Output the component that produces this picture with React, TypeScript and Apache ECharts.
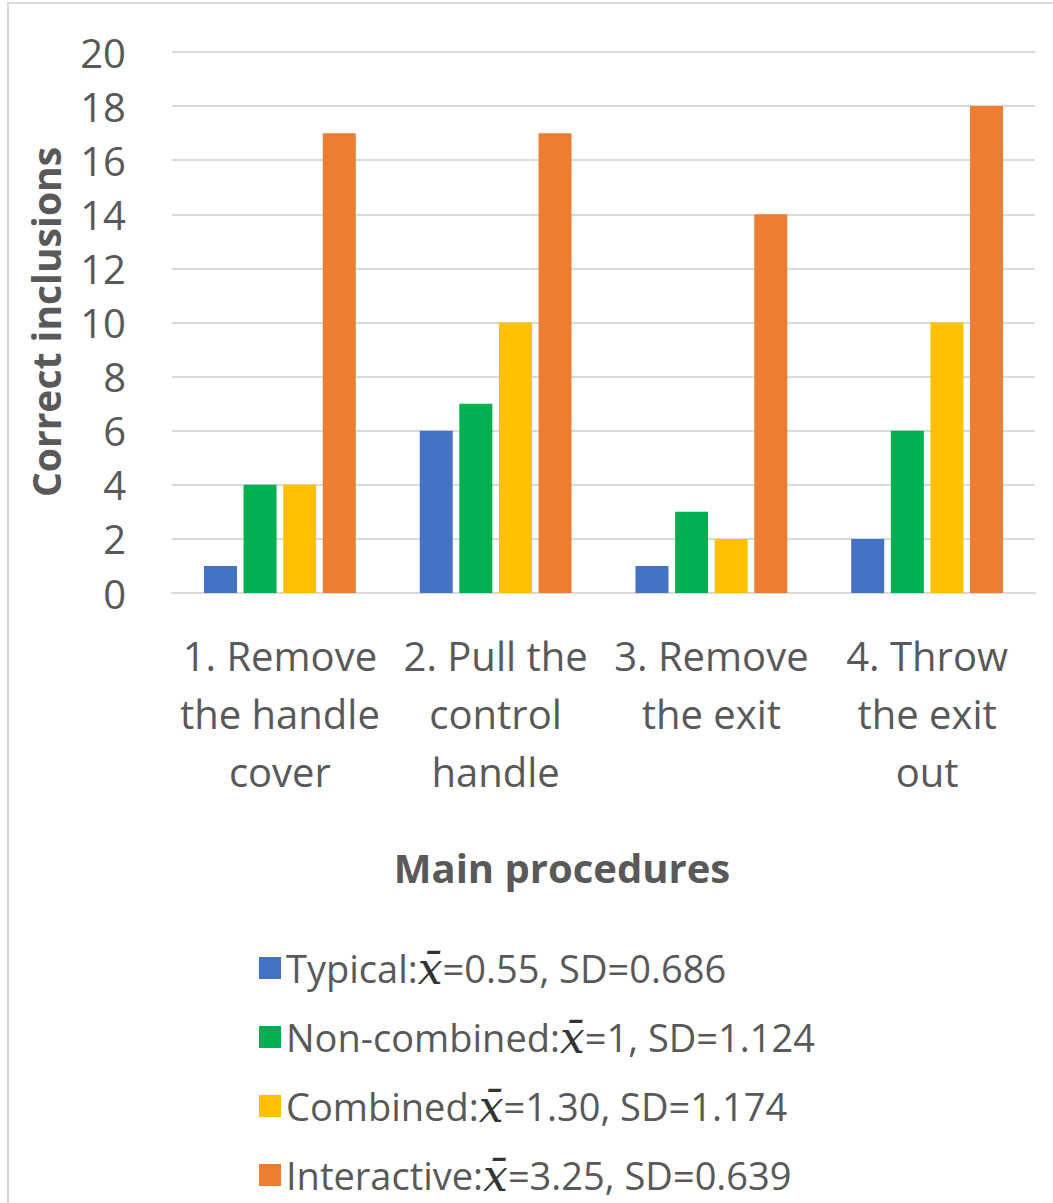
import React, { useEffect, useRef } from "react";
import * as echarts from "echarts";

const categories = [
  "1. Remove\nthe handle\ncover",
  "2. Pull the\ncontrol\nhandle",
  "3. Remove\nthe exit",
  "4. Throw\nthe exit\nout",
];
const seriesNames = [
  "Typical:x̄=0.55, SD=0.686",
  "Non-combined:x̄=1, SD=1.124",
  "Combined:x̄=1.30, SD=1.174",
  "Interactive:x̄=3.25, SD=0.639",
];
const typical = [1, 6, 1, 2];
const nonCombined = [4, 7, 3, 6];
const combined = [4, 10, 2, 10];
const interactive = [17, 17, 14, 18];
const colors = ["#4472C4", "#00B050", "#FFC000", "#ED7D31"];
const yTicks = { min: 0, max: 20, interval: 2 };

const FONT = "'Open Sans', 'Noto Sans', sans-serif";
const TXT = "#595959";

export default function App() {
  const ref = useRef<HTMLDivElement>(null);
  useEffect(() => {
    document.body.style.margin = "0";
    const chart = echarts.init(ref.current!, undefined, { renderer: "svg" });
    const values = [typical, nonCombined, combined, interactive];
    chart.setOption({
      animation: false,
      backgroundColor: "#ffffff",
      textStyle: { fontFamily: FONT },
      grid: { left: 172, right: 18, top: 52, bottom: 610, containLabel: false },
      xAxis: {
        type: "category",
        data: categories,
        axisLine: { lineStyle: { color: "#D9D9D9", width: 2 } },
        axisTick: { show: false },
        axisLabel: {
          color: TXT,
          fontSize: 40,
          fontFamily: FONT,
          lineHeight: 58,
          margin: 33,
          interval: 0,
        },
      },
      yAxis: {
        type: "value",
        min: yTicks.min,
        max: yTicks.max,
        interval: yTicks.interval,
        axisLine: { show: false },
        axisTick: { show: false },
        splitLine: { lineStyle: { color: "#D9D9D9", width: 2 } },
        axisLabel: { color: TXT, fontSize: 40, fontFamily: FONT, margin: 46 },
      },
      legend: {
        orient: "vertical",
        left: 259,
        top: 946,
        height: 300,
        padding: 0,
        itemWidth: 22,
        itemHeight: 22,
        itemGap: 25,
        itemTextGap: 14,
        icon: "rect",
        data: seriesNames,
        formatter: (name: string) => {
          const parts = name.split("x̄");
          return `{t|${parts[0]}}{m|x̄}{t|${parts[1]}}`;
        },
        textStyle: {
          color: TXT,
          fontSize: 38,
          lineHeight: 44,
          rich: {
            t: { color: TXT, fontSize: 38, fontFamily: FONT, lineHeight: 44 },
            m: {
              color: "#333333",
              fontSize: 44,
              fontFamily: "'DejaVu Serif', serif",
              fontStyle: "italic",
              lineHeight: 44,
            },
          },
        },
      },
      graphic: [
        {
          type: "rect",
          shape: { x: 8, y: 3, width: 1080, height: 1240 },
          style: { fill: "none", stroke: "#D9D9D9", lineWidth: 2 },
          silent: true,
        },
        {
          type: "text",
          x: 45,
          y: 322,
          rotation: Math.PI / 2,
          style: {
            text: "Correct inclusions",
            fontSize: 39,
            fontWeight: "bold",
            fontFamily: FONT,
            fill: TXT,
            align: "center",
            verticalAlign: "middle",
          },
        },
        {
          type: "text",
          x: 562,
          y: 867,
          style: {
            text: "Main procedures",
            fontSize: 40,
            fontWeight: "bold",
            fontFamily: FONT,
            fill: TXT,
            align: "center",
            verticalAlign: "middle",
          },
        },
      ],
      series: seriesNames.map((n, i) => ({
        name: n,
        type: "bar",
        data: values[i],
        barWidth: 33,
        barGap: "20%",
        itemStyle: { color: colors[i] },
      })),
    });
    return () => chart.dispose();
  }, []);
  return <div ref={ref} style={{ width: 1053, height: 1203 }} />;
}
